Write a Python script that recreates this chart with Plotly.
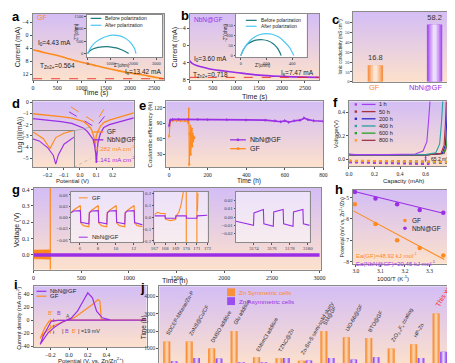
import base64, struct, zlib
import plotly.graph_objects as go

W, H = 455, 363
SERIF = 'Liberation Serif'
SANS = 'Liberation Sans'
ORG = '#ff8a1e'
PUR = '#9a2fe6'
RED = '#e8231f'
TEAL = '#1d7b80'
LBLUE = '#4ec8f2'

# ---------------- data ----------------
# (a) GF chronoamperometry
a_time = [0, 100, 250, 500, 750, 1000, 1250, 1500, 1750, 2000, 2250, 2500, 2700]
a_current = [4.43, 4.8, 5.4, 6.2, 7.3, 8.3, 9.2, 10.1, 10.9, 11.6, 12.2, 12.9, 13.42]
a_Is = 13.42
a_before_zr = [0, 100, 250, 450, 650, 850, 1050, 1250, 1450, 1600, 1720, 1790]
a_before_zi = [0, 110, 190, 245, 270, 275, 262, 225, 165, 100, 40, 0]
a_after_zr = [0, 150, 350, 600, 850, 1100, 1350, 1600, 1800, 1950, 2050, 2110]
a_after_zi = [0, 260, 460, 610, 700, 740, 720, 640, 510, 350, 190, 0]
# (b) NbN@GF chronoamperometry
b_time = [0, 50, 150, 250, 500, 750, 1000, 1500, 2000, 2500, 2800]
b_current = [3.6, 4.2, 4.7, 5.0, 5.65, 6.0, 6.33, 6.95, 7.25, 7.42, 7.47]
b_Is = 7.47
b_before_zr = [0, 20, 50, 90, 130, 170, 210, 250, 280, 300, 315]
b_before_zi = [0, 30, 55, 70, 77, 78, 73, 60, 42, 22, 0]
b_after_zr = [0, 30, 70, 110, 150, 200, 250, 300, 340, 380, 400, 415]
b_after_zi = [0, 40, 72, 93, 104, 108, 104, 90, 68, 40, 18, 0]
# (c) ionic conductivity
c_cats = ['GF', 'NbN@GF']
c_vals = [16.8, 58.2]
# (d) Tafel
d_pot_gf = [-0.29, -0.2, -0.115, -0.05, -0.015, 0.02, 0.045, 0.065, 0.075, 0.085, 0.093, 0.1, 0.11, 0.125, 0.146, 0.18, 0.226, 0.28, 0.33]
d_log_gf = [-1.04, -1.15, -1.3, -1.42, -1.55, -1.72, -2.0, -2.3, -2.6, -3.1, -4.0, -3.0, -2.6, -2.15, -1.83, -1.6, -1.4, -1.18, -0.96]
d_pot_nbn = [-0.29, -0.2, -0.115, -0.05, -0.015, 0.02, 0.045, 0.065, 0.08, 0.09, 0.097, 0.1, 0.103, 0.11, 0.125, 0.146, 0.18, 0.226, 0.28, 0.33]
d_log_nbn = [-1.48, -1.6, -1.74, -1.9, -2.09, -2.3, -2.6, -2.95, -3.3, -3.9, -4.6, -5.4, -4.6, -3.6, -2.8, -2.26, -2.0, -1.8, -1.6, -1.4]
d_tafel_gf_x = [-0.055, 0.096, 0.156]
d_tafel_gf_y = [-0.43, -1.83, -0.43]
d_tafel_nbn_x = [-0.067, 0.096, 0.168]
d_tafel_nbn_y = [-0.87, -2.26, -0.96]
# (e) coulombic efficiency
e_t_nbn = [0, 5, 10, 20, 50, 100, 150, 200, 300, 400, 500, 550, 580, 600, 620, 650, 680, 700, 720, 750, 800]
e_ce_nbn = [85, 95, 97, 97.5, 97.5, 97.5, 97.5, 97, 97, 96.5, 96, 95, 93, 95, 92, 95, 96, 100, 97, 95, 94]
e_t_gf = [0, 3, 6, 10, 20, 40, 60, 80, 95, 100, 102, 104, 106, 108, 110, 112, 114, 116, 118, 120, 122, 124, 126, 128, 130]
e_ce_gf = [65, 90, 95, 96, 95, 95, 95, 95, 94, 90, 118, 10, 70, 40, 85, 30, 75, 50, 80, 45, 70, 55, 65, 60, 62]
# (f) voltage profiles
f_labels = ['1 h', '50 h', '200 h', '400 h', '600 h', '800 h']
f_line_colors = ['#a040f0', '#a8323c', '#2a2ac8', '#2aa0a0', '#28a028', '#a03a48']
f_dot_colors = ['#a040f0', '#a8323c', '#2a2ac8', '#2aa0a0', '#28a028', '#ff9a2e']
f_ch_cap = [[0, 0.05, 0.3, 0.52, 0.58, 0.61, 0.625, 0.635],
            [0, 0.05, 0.3, 0.6, 0.72, 0.745, 0.755, 0.762],
            [0, 0.05, 0.3, 0.6, 0.73, 0.755, 0.765, 0.772],
            [0, 0.05, 0.3, 0.6, 0.68, 0.71, 0.725, 0.735],
            [0, 0.05, 0.3, 0.6, 0.74, 0.765, 0.775, 0.782],
            [0, 0.05, 0.3, 0.6, 0.745, 0.77, 0.78, 0.79]]
f_ch_v = [[0.045, 0.04, 0.04, 0.045, 0.07, 0.15, 0.35, 0.5],
          [0.04, 0.035, 0.035, 0.037, 0.05, 0.12, 0.3, 0.5],
          [0.038, 0.034, 0.034, 0.036, 0.05, 0.12, 0.3, 0.5],
          [0.042, 0.037, 0.037, 0.04, 0.055, 0.13, 0.32, 0.5],
          [0.04, 0.035, 0.035, 0.037, 0.05, 0.12, 0.3, 0.5],
          [0.04, 0.035, 0.035, 0.037, 0.05, 0.12, 0.3, 0.5]]
f_dis_cap = [[0, 0.3, 0.63], [0, 0.4, 0.76], [0, 0.4, 0.77], [0, 0.4, 0.73], [0, 0.4, 0.78], [0, 0.4, 0.79]]
f_dis_v = [[-0.025, -0.03, -0.04], [-0.015, -0.02, -0.025], [-0.016, -0.02, -0.026],
           [-0.015, -0.019, -0.024], [-0.014, -0.018, -0.024], [-0.012, -0.016, -0.022]]
# (g) long-term cycling
g_nbn_t = [0, 3000]
g_nbn_hi = [0.009, 0.009]
g_nbn_lo = [-0.009, -0.009]
g_gf_t = [0, 175]
g_gf_hi = [0.03, 0.032]
g_gf_lo = [-0.024, -0.026]
g_gf_spike_t = [175, 175]
g_gf_spike_v = [-0.09, 0.45]
g1_gf_t = [5.0, 5.3, 5.8, 6.05, 6.1, 6.4, 7.0, 7.05, 7.35, 7.8, 8.05, 8.1, 8.4, 9.0, 9.05, 9.35, 9.8, 10.05, 10.1, 10.4, 11.0, 11.05, 11.35, 11.8, 12.05, 12.1, 12.4, 13.0]
g1_gf_v = [0.012, 0.02, 0.028, 0.032, -0.015, -0.022, -0.025, 0.013, 0.02, 0.028, 0.032, -0.015, -0.022, -0.025, 0.013, 0.02, 0.028, 0.032, -0.015, -0.022, -0.025, 0.013, 0.02, 0.028, 0.032, -0.015, -0.022, -0.025]
g1_nbn_t = [5.0, 5.3, 6.05, 6.1, 7.0, 7.05, 7.3, 8.05, 8.1, 9.0, 9.05, 9.3, 10.05, 10.1, 11.0, 11.05, 11.3, 12.05, 12.1, 13.0]
g1_nbn_v = [0.012, 0.017, 0.018, -0.013, -0.017, 0.012, 0.017, 0.018, -0.013, -0.017, 0.012, 0.017, 0.018, -0.013, -0.017, 0.012, 0.017, 0.018, -0.014, -0.02]
g2_gf_t = [167.0, 167.3, 167.6, 168.0, 168.05, 168.5, 169.0, 169.05, 169.3, 169.5, 169.7, 169.8, None, 170.0, 170.0, None, 171.0, 171.0, None, 171.05, 171.1]
g2_gf_v = [0.02, 0.04, 0.03, 0.03, -0.02, -0.03, -0.02, 0.01, 0.04, 0.1, 0.2, 0.25, None, 0.25, -0.25, None, -0.25, 0.25, None, 0.05, 0.2]
g2_nbn_t = [167.0, 168.0, 168.02, 169.0, 169.02, 170.0, 170.02, 171.0, 171.02, 172.0]
g2_nbn_v = [0.01, 0.01, -0.01, -0.01, 0.01, 0.01, -0.01, -0.01, 0.01, 0.015]
g3_nbn_t = [3172.0, 3173.95, 3174.0, 3175.05, 3175.1, 3176.15, 3176.2, 3177.25, 3177.3, 3178.35, 3178.4, 3179.45, 3179.5, 3180.2]
g3_nbn_v = [-0.005, -0.010, 0.005, 0.009, -0.008, -0.011, 0.006, 0.009, -0.008, -0.011, 0.006, 0.009, -0.008, -0.010]
# (h) Arrhenius
h_invT = [2.996, 3.08, 3.168, 3.26, 3.356]
h_gf = [-5.31, -6.24, -7.0, -7.36, -7.71]
h_nbn = [-4.73, -5.04, -5.31, -5.58, -5.71]
h_fit_x = [2.99, 3.36]
h_fit_gf = [-5.62, -7.9]
h_fit_nbn = [-4.70, -5.74]
# (i) CV
i_nbn_x = [0.0, -0.03, -0.084, -0.155, -0.224, -0.277, -0.31, -0.277, -0.224, -0.19, -0.12, -0.03, 0.02, 0.09, 0.16, 0.2, 0.25, 0.295, 0.355, 0.44, 0.83, 0.5, 0.0]
i_nbn_y = [0.0, -0.3, -4.1, -10.8, -19.5, -29.7, -37.4, -24.6, -9.2, -1.5, -0.5, 0.0, 2.6, 13.8, 31.8, 42.0, 34.4, 13.8, 3.6, 0.5, 0.0, -0.2, 0.0]
i_gf_x = [0.0, -0.014, -0.066, -0.17, -0.26, -0.31, -0.26, -0.214, -0.12, -0.03, 0.056, 0.16, 0.25, 0.31, 0.33, 0.345, 0.44, 0.83, 0.5, 0.0]
i_gf_y = [0.0, -0.2, -2.6, -9.2, -19.0, -28.2, -11.8, -1.5, -0.3, 0.0, 3.6, 13.8, 24.0, 31.8, 29.0, 1.0, 0.0, 0.0, -0.2, 0.0]
i_Bp = -0.2
i_B = -0.165
# (j) comparison
j_works = ['SDCEP-MXene/Zn-P', 'ZnNS@Cu/CF', 'DMSO additive', 'Glu additive', 'EMImCl additive', 'TZNC@Zn',
           'Zn-Sn-S semi-solid slurry', 'SM@GF', 'UiO-66@GF', 'BTO@GF', 'ZrO<sub>2-x</sub>F<sub>x</sub> coating', 'HP-Zn', 'This work']
j_sym = [1400, 1400, 1000, 2000, 500, 450, 300, 2000, 1650, 1600, 1000, 1250, 3000]
j_asym = [280, 460, 430, 220, 220, 460, 320, 460, 370, 500, 110, 460, 820]

# ---------------- helpers ----------------
def grad_png(top, bot, n=48):
    rows = b''
    for k in range(n):
        t = k / (n - 1)
        rows += b'\x00' + bytes([round(top[c] + (bot[c] - top[c]) * t) for c in range(3)])
    def chunk(tag, data):
        return struct.pack('>I', len(data)) + tag + data + struct.pack('>I', zlib.crc32(tag + data) & 0xffffffff)
    png = (b'\x89PNG\r\n\x1a\n' + chunk(b'IHDR', struct.pack('>IIBBBBB', 1, n, 8, 2, 0, 0, 0))
           + chunk(b'IDAT', zlib.compress(rows)) + chunk(b'IEND', b''))
    return 'data:image/png;base64,' + base64.b64encode(png).decode()

GRAD = grad_png((212, 190, 245), (253, 225, 205))

def dom(x0, y0, x1, y1):
    return [x0 / W, x1 / W], [1 - y1 / H, 1 - y0 / H]

AX = dict(showline=True, mirror=True, linecolor='#8a8a8a', linewidth=0.8, ticks='outside', ticklen=2,
          tickwidth=0.6, tickcolor='#555', showgrid=False, zeroline=False,
          tickfont=dict(family=SERIF, size=6, color='#222'))

layout = {}
images = []
shapes = []
anns = []

def sfx(n):
    return '' if n == 1 else str(n)

def add_axes(n, box, xr, yr, xkw=None, ykw=None, bg='grad'):
    xd, yd = dom(*box)
    s = sfx(n)
    xa = dict(AX, domain=xd, range=xr, anchor='y' + s)
    ya = dict(AX, domain=yd, range=yr, anchor='x' + s)
    xa.update(xkw or {})
    ya.update(ykw or {})
    layout['xaxis' + s] = xa
    layout['yaxis' + s] = ya
    if bg == 'grad':
        images.append(dict(source=GRAD, xref='paper', yref='paper', x=xd[0], y=yd[1], sizex=xd[1] - xd[0],
                           sizey=yd[1] - yd[0], sizing='stretch', xanchor='left', yanchor='top', layer='below'))
    elif bg:
        shapes.append(dict(type='rect', xref='paper', yref='paper', x0=xd[0], x1=xd[1], y0=yd[0], y1=yd[1],
                           fillcolor=bg, line=dict(width=0), layer='below'))

def ref(n):
    s = sfx(n)
    return dict(xaxis='x' + s, yaxis='y' + s)

def ann(x, y, text, size=7, color='#222', xanchor='left', yanchor='middle', family=SANS, **kw):
    anns.append(dict(x=x / W, y=1 - y / H, xref='paper', yref='paper', text=text, showarrow=False,
                     font=dict(family=family, size=size, color=color), xanchor=xanchor, yanchor=yanchor, **kw))

def xtitle(x, y, text, size=7):
    ann(x, y, text, size, '#222', xanchor='center')

def ytitle(x, y, text, size=7):
    ann(x, y, text, size, '#222', xanchor='center', textangle=-90)

def leg_line(x0, x1, y, color, width=1.5, dash='solid'):
    shapes.append(dict(type='line', xref='paper', yref='paper', x0=x0 / W, x1=x1 / W, y0=1 - y / H, y1=1 - y / H,
                       line=dict(color=color, width=width, dash=dash)))

def leg_dot(x, y, color, r=1.6, rect=False):
    shapes.append(dict(type='rect' if rect else 'circle', xref='paper', yref='paper', x0=(x - r) / W, x1=(x + r) / W,
                       y0=1 - (y + r) / H, y1=1 - (y - r) / H, fillcolor=color, line=dict(width=0)))

fig = go.Figure()
small = dict(family=SERIF, size=4.8)
tiny = dict(family=SERIF, size=4.5)
mid = dict(family=SERIF, size=5.5, color='#222')

# ---------------- (a) ----------------
add_axes(1, (21, 3, 155, 70), [-10, 2710], [13.75, -6.6],
         dict(tickvals=[0, 500, 1000, 1500, 2000, 2500]),
         dict(tickvals=[-4, 0, 4, 8, 12]))
xtitle(85, 83, 'Time (s)'); ytitle(7, 37, 'Current (mA)')
fig.add_trace(go.Scatter(x=a_time, y=a_current, mode='lines', line=dict(color=ORG, width=1.6, shape='spline'), **ref(1)))
fig.add_trace(go.Scatter(x=[a_time[0], a_time[-1]], y=[a_Is, a_Is], mode='lines', line=dict(color=RED, width=0.9, dash='dash'), **ref(1)))
add_axes(2, (76, 4, 153, 47), [-43, 3260], [-150, 1560],
         dict(tickvals=[0, 1000, 2000, 3000], tickfont=tiny, ticklen=1.5),
         dict(tickvals=[0, 500, 1000, 1500], tickfont=tiny, ticklen=1.5), bg='white')
xtitle(112, 55, "Z'(ohm)", 4.5); ytitle(66, 22, "-Z''(ohm)", 4.5)
fig.add_trace(go.Scatter(x=a_before_zr, y=a_before_zi, mode='lines', line=dict(color=TEAL, width=1.2, shape='spline'), **ref(2)))
fig.add_trace(go.Scatter(x=a_after_zr, y=a_after_zi, mode='lines', line=dict(color=LBLUE, width=1.2, shape='spline'), **ref(2)))
leg_line(80, 91, 7.5, TEAL, 1.2); ann(93, 7.5, 'Before polarization', 5)
leg_line(80, 91, 14.5, LBLUE, 1.2); ann(93, 14.5, 'After polarization', 5)
ann(23, 7, 'GF', 7, ORG)
ann(24, 33, 'I<sub>0</sub>=4.43 mA', 6.5)
ann(26, 56, 'T<sub>Zn2+</sub>=0.564', 6.5)
ann(154, 62, 'I<sub>s</sub>=13.42 mA', 6.5, xanchor='right')

# ---------------- (b) ----------------
add_axes(3, (181, 3, 313, 70), [0, 2815], [8.05, -7.3],
         dict(tickvals=[0, 500, 1000, 1500, 2000, 2500]),
         dict(tickvals=[-4, 0, 4, 8]))
xtitle(247, 87, 'Time (s)'); ytitle(166, 37, 'Current (mA)')
fig.add_trace(go.Scatter(x=b_time, y=b_current, mode='lines', line=dict(color=PUR, width=1.6, shape='spline'), **ref(3)))
fig.add_trace(go.Scatter(x=[0, 2800], y=[b_Is, b_Is], mode='lines', line=dict(color=RED, width=0.9, dash='dash'), **ref(3)))
add_axes(4, (228, 3, 300, 47), [-38, 515], [-8, 205],
         dict(tickvals=[0, 200, 400], tickfont=tiny, ticklen=1.5),
         dict(tickvals=[0, 50, 100, 150], tickfont=tiny, ticklen=1.5), bg='white')
xtitle(256, 55, "Z'(ohm)", 4.5); ytitle(217, 22, "-Z''(ohm)", 4.5)
fig.add_trace(go.Scatter(x=b_before_zr, y=b_before_zi, mode='lines', line=dict(color=TEAL, width=1.2, shape='spline'), **ref(4)))
fig.add_trace(go.Scatter(x=b_after_zr, y=b_after_zi, mode='lines', line=dict(color=LBLUE, width=1.2, shape='spline'), **ref(4)))
leg_line(238, 249, 9.5, TEAL, 1.2); ann(251, 9.5, 'Before polarization', 4.8)
leg_line(238, 249, 15.5, LBLUE, 1.2); ann(251, 15.5, 'After polarization', 4.8)
ann(183, 9, 'NbN@GF', 6.5, PUR)
ann(183, 49, 'I<sub>0</sub>=3.60 mA', 6.5)
ann(182, 65, 'T<sub>Zn2+</sub>=0.718', 6.5)
ann(309, 63, 'I<sub>s</sub>=7.47 mA', 6.5, xanchor='right')

# ---------------- (c) ----------------
add_axes(5, (347, 1, 447, 72), [-0.38, 1.28], [0, 71],
         dict(showticklabels=False, ticks=''),
         dict(tickvals=[0, 10, 20, 30, 40, 50, 60], tickfont=tiny, ticklen=1.5))
ytitle(334, 36, 'Ionic conductivity (mS cm<sup>-1</sup>)', 4.5)
c_layers = [(0.26, '#f5934a', '#a94ff0'), (0.2, '#f8b07c', '#bf80f4'), (0.14, '#fbcca8', '#d6aef8'), (0.07, '#fde6d6', '#ecdefb')]
for k, (w, co, cp) in enumerate(c_layers):
    fig.add_trace(go.Bar(x=[0, 1], y=c_vals, width=w, marker=dict(color=[co, cp], line=dict(width=0)),
                         text=[f'{v}' for v in c_vals] if k == 0 else None, textposition='outside',
                         textfont=dict(family=SANS, size=7.5, color='#333'), cliponaxis=False, **ref(5)))
ann(369, 78, c_cats[0], 7.5, ORG, xanchor='center')
ann(421, 78, c_cats[1], 7.5, PUR, xanchor='center')

# ---------------- (d) ----------------
add_axes(6, (21, 92, 124, 159), [-0.29, 0.33], [-5.8, 0.05],
         dict(tickvals=[-0.2, -0.1, 0.0, 0.1, 0.2], tickformat='.1f', tickfont=mid),
         dict(tickvals=[0, -1, -2, -3, -4, -5], tickfont=mid))
xtitle(62, 172.5, 'Potential (V)', 6); ytitle(8, 126, 'Log (|i|(mA))', 6.5)
fig.add_trace(go.Scatter(x=d_tafel_gf_x, y=d_tafel_gf_y, mode='lines', line=dict(color=ORG, width=1, dash='dash'), **ref(6)))
fig.add_trace(go.Scatter(x=d_tafel_nbn_x, y=d_tafel_nbn_y, mode='lines', line=dict(color=PUR, width=1, dash='dash'), **ref(6)))
fig.add_trace(go.Scatter(x=d_pot_gf, y=d_log_gf, mode='lines', line=dict(color=ORG, width=1.3), **ref(6)))
fig.add_trace(go.Scatter(x=d_pot_nbn, y=d_log_nbn, mode='lines', line=dict(color=PUR, width=1.3), **ref(6)))
add_axes(7, (21, 122, 63, 159), [0.072, 0.122], [-5.7, -2.4],
         dict(showticklabels=False, ticks=''), dict(showticklabels=False, ticks=''), bg=None)
fig.add_trace(go.Scatter(x=d_pot_gf, y=d_log_gf, mode='lines', line=dict(color=ORG, width=1.1), **ref(7)))
fig.add_trace(go.Scatter(x=d_pot_nbn, y=d_log_nbn, mode='lines', line=dict(color=PUR, width=1.1), **ref(7)))
shapes.append(dict(type='line', xref='paper', yref='paper', x0=63 / W, y0=1 - 122 / H, x1=80 / W, y1=1 - 118 / H, line=dict(color='#999', width=0.6)))
shapes.append(dict(type='line', xref='paper', yref='paper', x0=63 / W, y0=1 - 159 / H, x1=80 / W, y1=1 - 150 / H, line=dict(color='#999', width=0.6, dash='dot')))
leg_line(83, 93, 123, ORG, 1.3); ann(95, 123, 'GF', 6.5)
leg_line(83, 93, 131, PUR, 1.3); ann(95, 131, 'NbN@GF', 6.5)
ann(82, 139, '4.282 mA cm<sup>-2</sup>', 6.2, ORG)
ann(82, 150, '1.141 mA cm<sup>-2</sup>', 6.2, PUR)

# ---------------- (e) ----------------
add_axes(8, (157, 92, 317, 159), [-15, 800], [5, 132],
         dict(tickvals=[0, 200, 400, 600, 800], tickfont=mid),
         dict(tickvals=[30, 60, 90, 120], tickfont=mid))
xtitle(241, 172.5, 'Time (h)', 6.5); ytitle(140, 126, 'Coulombic efficiency (%)', 6)
fig.add_trace(go.Scatter(x=e_t_gf, y=e_ce_gf, mode='lines+markers', line=dict(color=ORG, width=1),
                         marker=dict(symbol='triangle-right', size=3, color=ORG), **ref(8)))
fig.add_trace(go.Scatter(x=e_t_nbn, y=e_ce_nbn, mode='lines+markers', line=dict(color=PUR, width=1.6),
                         marker=dict(symbol='triangle-right', size=3, color=PUR), **ref(8)))
leg_line(222, 238, 131, PUR, 1.3); leg_dot(230, 131, PUR, 1.4); ann(240, 131, 'NbN@GF', 7)
leg_line(222, 238, 140, ORG, 1.3); leg_dot(230, 140, ORG, 1.4); ann(240, 140, 'GF', 7)

# ---------------- (f) ----------------
add_axes(9, (343, 92, 447, 158), [0, 0.8], [-0.06, 0.49],
         dict(tickvals=[0, 0.2, 0.4, 0.6], tickformat='.1f', tickfont=mid),
         dict(tickvals=[0, 0.2, 0.4], tickformat='.1f', tickfont=mid))
xtitle(399, 172.5, 'Capacity (mAh)', 6); ytitle(330, 125, 'Voltage(V)', 6)
for k in [1, 2, 3, 4, 0, 5]:
    fig.add_trace(go.Scatter(x=f_dis_cap[k], y=f_dis_v[k], mode='lines', line=dict(color=f_dot_colors[k], width=2.2, dash='dot'), **ref(9)))
for k in [5, 4, 2, 1, 3, 0]:
    fig.add_trace(go.Scatter(x=f_ch_cap[k], y=f_ch_v[k], mode='lines', line=dict(color=f_line_colors[k], width=1.1), **ref(9)))
for k, lab in enumerate(f_labels):
    yy = 95 + k * 7.3
    leg_dot(350, yy, f_dot_colors[k], 1.2, rect=True)
    leg_line(356, 370, yy, f_line_colors[k], 1.3)
    ann(372, yy, lab, 5.5)
anns.append(dict(x=0.6, y=-0.022, ax=0.6, ay=0.042, xref='x9', yref='y9', axref='x9', ayref='y9', text='',
                 showarrow=True, arrowhead=2, arrowsize=0.6, arrowwidth=0.8, arrowcolor=PUR, startarrowhead=2,
                 arrowside='end+start'))
ann(424, 150, '65.2 mV', 5, '#222')

# ---------------- (g) ----------------
add_axes(10, (22, 180, 315, 263), [0, 3020], [-0.09, 0.41],
         dict(tickvals=[0, 500, 1000, 1500, 2000, 2500, 3000]),
         dict(tickvals=[0, 0.1, 0.2, 0.3, 0.4], tickformat='.1f'))
xtitle(166, 274.5, 'Time (h)', 7); ytitle(5, 222, 'Voltage (V)', 7)
fig.add_trace(go.Scatter(x=g_gf_t, y=g_gf_hi, mode='lines', line=dict(color=ORG, width=0.5), **ref(10)))
fig.add_trace(go.Scatter(x=g_gf_t, y=g_gf_lo, mode='lines', line=dict(color=ORG, width=0.5), fill='tonexty', fillcolor=ORG, **ref(10)))
fig.add_trace(go.Scatter(x=g_gf_spike_t, y=g_gf_spike_v, mode='lines', line=dict(color=ORG, width=1.2), **ref(10)))
fig.add_trace(go.Scatter(x=g_nbn_t, y=g_nbn_hi, mode='lines', line=dict(color=PUR, width=0.5), **ref(10)))
fig.add_trace(go.Scatter(x=g_nbn_t, y=g_nbn_lo, mode='lines', line=dict(color=PUR, width=0.5), fill='tonexty', fillcolor=PUR, **ref(10)))
add_axes(11, (60, 184, 133, 235), [5, 13], [-0.066, 0.068],
         dict(tickvals=[6, 8, 10, 12], tickfont=small, ticklen=1.5),
         dict(tickvals=[-0.06, -0.03, 0, 0.03, 0.06], tickformat='.2f', tickfont=small, ticklen=1.5), bg='rgba(255,255,255,0.55)')
fig.add_trace(go.Scatter(x=g1_gf_t, y=g1_gf_v, mode='lines', line=dict(color=ORG, width=1.1), **ref(11)))
fig.add_trace(go.Scatter(x=g1_nbn_t, y=g1_nbn_v, mode='lines', line=dict(color=PUR, width=1.1), **ref(11)))
leg_line(68, 77, 190, ORG, 1); ann(79, 190, 'GF', 6)
leg_line(68, 77, 230, PUR, 1); ann(79, 230, 'NbN@GF', 6)
add_axes(12, (145, 184, 199, 235), [167, 172], [-0.21, 0.21],
         dict(tickvals=[167, 168, 169, 170, 171, 172], tickfont=small, ticklen=1.5),
         dict(tickvals=[-0.2, -0.1, 0, 0.1, 0.2], tickformat='.1f', tickfont=small, ticklen=1.5), bg='rgba(255,255,255,0.55)')
fig.add_trace(go.Scatter(x=g2_gf_t, y=g2_gf_v, mode='lines', line=dict(color=ORG, width=1.1), **ref(12)))
fig.add_trace(go.Scatter(x=g2_nbn_t, y=g2_nbn_v, mode='lines', line=dict(color=PUR, width=1.1), **ref(12)))
add_axes(13, (228, 184, 303, 235), [3172, 3180.2], [-0.03, 0.03],
         dict(tickvals=[3174, 3176, 3178, 3180], tickfont=small, ticklen=1.5),
         dict(tickvals=[-0.02, -0.01, 0, 0.01, 0.02], tickformat='.2f', tickfont=small, ticklen=1.5), bg='rgba(255,255,255,0.55)')
fig.add_trace(go.Scatter(x=g3_nbn_t, y=g3_nbn_v, mode='lines', line=dict(color=PUR, width=1.1), **ref(13)))

# ---------------- (h) ----------------
add_axes(14, (347, 182, 443, 257), [2.988, 3.372], [-8.1, -4.64],
         dict(tickvals=[3.0, 3.1, 3.2, 3.3], tickformat='.1f', tickfont=mid),
         dict(tickvals=[-5, -6, -7, -8], tickfont=mid))
xtitle(388, 271, '1000/T (K<sup>-1</sup>)', 6); ytitle(336, 220, 'Potential (mV vs. Zn<sup>2+</sup>/Zn)', 5.2)
fig.add_trace(go.Scatter(x=h_fit_x, y=h_fit_gf, mode='lines', line=dict(color=ORG, width=1.1), **ref(14)))
fig.add_trace(go.Scatter(x=h_fit_x, y=h_fit_nbn, mode='lines', line=dict(color=PUR, width=1.1), **ref(14)))
fig.add_trace(go.Scatter(x=h_invT, y=h_gf, mode='markers', marker=dict(color=ORG, size=4.5), **ref(14)))
fig.add_trace(go.Scatter(x=h_invT, y=h_nbn, mode='markers', marker=dict(color=PUR, size=4.5), **ref(14)))
leg_dot(400, 213, ORG, 1.8); ann(405, 213, 'GF', 6.5)
leg_dot(400, 221, PUR, 1.8); ann(405, 221, 'NbN@GF', 6.5)
ann(348, 248, 'Ea(GF)=48.92 kJ mol<sup>-1</sup>', 6, ORG)
ann(348, 256, 'Ea(NbN@GF)=20.45 kJ mol<sup>-1</sup>', 6, PUR)

# ---------------- (i) ----------------
add_axes(15, (22, 280, 137, 342), [-0.38, 0.83], [-42, 52],
         dict(tickvals=[-0.2, 0.0, 0.2, 0.4], tickformat='.1f'),
         dict(tickvals=[-40, -20, 0, 20, 40]))
xtitle(80, 355, 'Potential (V. vs. Zn/Zn<sup>2+</sup>)', 6); ytitle(7, 312, 'Current density (mA cm<sup>-2</sup>)', 5.5)
fig.add_trace(go.Scatter(x=i_gf_x, y=i_gf_y, mode='lines', line=dict(color=ORG, width=1.2), **ref(15)))
fig.add_trace(go.Scatter(x=i_nbn_x, y=i_nbn_y, mode='lines', line=dict(color=PUR, width=1.2), **ref(15)))
fig.add_trace(go.Scatter(x=[i_Bp, i_Bp], y=[2, -22], mode='lines', line=dict(color=ORG, width=0.8, dash='dot'), **ref(15)))
fig.add_trace(go.Scatter(x=[i_B, i_B], y=[2, -22], mode='lines', line=dict(color=PUR, width=0.8, dash='dot'), **ref(15)))
leg_line(25, 35, 285, PUR, 1.2); ann(37, 285, 'NbN@GF', 6)
leg_line(25, 35, 290, ORG, 1.2); ann(37, 290, 'GF', 6)
ann(35, 307, "B'", 5.5, ORG); ann(44, 307, 'B', 5.5, PUR); ann(53, 310, 'A', 5, '#555')
ann(49, 325, f"| <span style='color:{PUR}'>B</span>  <span style='color:{ORG}'>B'</span> | =19 mV", 5.5, '#333')

# ---------------- (j) ----------------
add_axes(16, (150, 280, 447, 361), [-0.5, 12.5], [0, 4560],
         dict(showticklabels=False, ticks=''),
         dict(tickvals=[0, 1000, 2000, 3000, 4000], tickfont=dict(family=SERIF, size=5.5)))
ytitle(134, 322, 'Time (h)', 6.5)
j_idx = list(range(len(j_works)))
for w, co, cp in [(0.32, '#f7913a', '#9a4ef0'), (0.2, '#f9ad6e', '#b98af4'), (0.1, '#fcd0a6', '#e2d2f9')]:
    fig.add_trace(go.Bar(x=j_idx, y=j_sym, width=w, offset=-0.17 - w / 2, marker=dict(color=co, line=dict(width=0)), **ref(16)))
    fig.add_trace(go.Bar(x=j_idx, y=j_asym, width=w * 0.95, offset=0.16 - w * 0.475, marker=dict(color=cp, line=dict(width=0)), **ref(16)))
for k, name in enumerate(j_works):
    last = k == len(j_works) - 1
    anns.append(dict(x=k - 0.38, y=j_sym[k] + 150, xref='x16', yref='y16', text=name, showarrow=False,
                     textangle=-60, xanchor='left', yanchor='bottom',
                     font=dict(family=SANS, size=7 if last else 5.3, color='#ff2a2a' if last else '#222')))
leg_dot(223, 286, '#f7913a', 4, rect=True); ann(229, 286, 'Zn Symmetric cells', 6.2, ORG)
leg_dot(223, 295, '#9a4ef0', 4, rect=True); ann(229, 295, 'Zn Asymmetric cells', 6.2, PUR)

# ---------------- panel letters ----------------
for lab, x, y in [('a', 4, 6), ('b', 176, 5), ('c', 329, 9), ('d', 4, 94), ('e', 133, 96), ('f', 329, 93),
                  ('g', 4, 182), ('h', 333, 182), ('i', 4, 278), ('j', 133, 281)]:
    ann(x, y, f'<b>{lab}</b>', 13, '#000', xanchor='center', family='Liberation Sans')

fig.update_traces(showlegend=False)
fig.update_layout(**layout)
fig.update_layout(width=W, height=H, margin=dict(l=0, r=0, t=0, b=0), paper_bgcolor='white',
                  plot_bgcolor='rgba(0,0,0,0)', barmode='overlay', showlegend=False,
                  images=images, shapes=shapes, annotations=anns)
fig.write_html('out.html')
